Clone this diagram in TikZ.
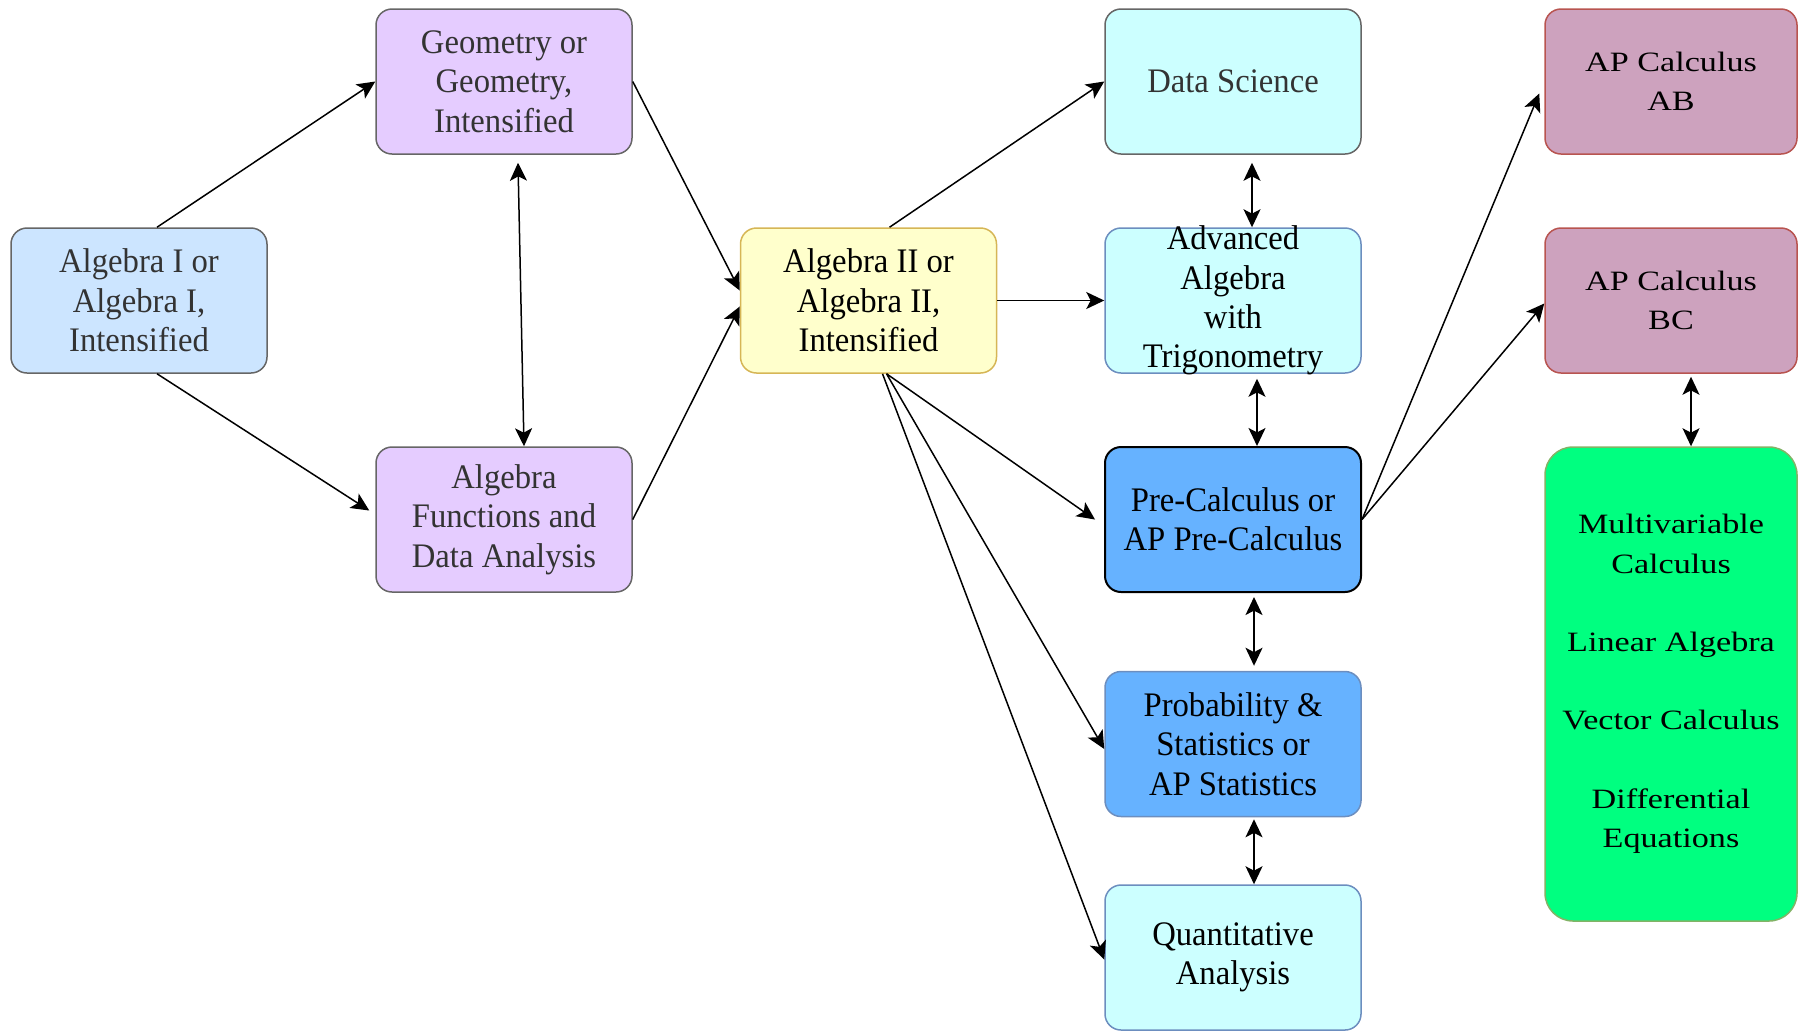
\documentclass[tikz,border=0pt]{standalone}
\usepackage{fontspec}
\setmainfont[FakeStretch=0.95]{Liberation Serif}
\newfontfamily\widefont[FakeStretch=1.22]{Liberation Serif}
\usetikzlibrary{arrows.meta}
\definecolor{pathblue}{HTML}{CCE5FF}
\definecolor{pathlilac}{HTML}{E5CCFF}
\definecolor{pathyellow}{HTML}{FFFFCC}
\definecolor{pathgold}{HTML}{D6B656}
\definecolor{pathcyan}{HTML}{CCFFFF}
\definecolor{pathedge}{HTML}{6C8EBF}
\definecolor{pathsky}{HTML}{66B2FF}
\definecolor{pathmauve}{HTML}{CDA2BE}
\definecolor{pathred}{HTML}{B85450}
\definecolor{pathgreen}{HTML}{00FF80}
\definecolor{pathleaf}{HTML}{82B366}
\tikzset{%
  course/.style  = {shape=rectangle, rounded corners=8pt,%
                    draw, align=center, line width=0.75pt,%
                    minimum width=128pt, minimum height=72.5pt, inner sep=0pt,%
                    font=\fontsize{17.2}{19.7}\selectfont},%
  intro/.style   = {course, fill=pathblue, draw=black!60, text=black!80},%
  middle/.style  = {course, fill=pathlilac, draw=black!60, text=black!80},%
  hub/.style     = {course, fill=pathyellow, draw=pathgold},%
  elective/.style= {course, fill=pathcyan, draw=pathedge},%
  senior/.style  = {course, fill=pathsky, draw=pathedge},%
  apcalc/.style  = {course, minimum width=126pt, fill=pathmauve, draw=pathred,%
                    font=\widefont\fontsize{14}{19.6}\selectfont},%
  beyond/.style  = {apcalc, fill=pathgreen, draw=pathleaf, rounded corners=14pt}%
}

\begin{document}
\begin{tikzpicture}[x=0.5pt,y=-0.5pt,
  arr/.style={-{Stealth[length=9pt,width=8.5pt,inset=2.2pt]}, line width=0.75pt},
  twoway/.style={{Stealth[length=9pt,width=8.5pt,inset=2.2pt]}-{Stealth[length=9pt,width=8.5pt,inset=2.2pt]}, line width=0.75pt}]
  \useasboundingbox (0,0) rectangle (1798,1030);
  % first two years
  \node [intro]  (alg1) at (139,300.5)  {Algebra I or\\Algebra I,\\Intensified};
  \node [middle] (geo)  at (504,81.5)   {Geometry or\\Geometry,\\Intensified};
  \node [middle] (afda) at (504,519.5)  {Algebra\\Functions and\\Data Analysis};
  \node [hub]    (alg2) at (868.5,300.5) {Algebra II or\\Algebra II,\\Intensified};
  % after Algebra II
  \node [elective, draw=black!60, text=black!80] (dsci) at (1233,81.5) {Data Science};
  \node [elective, inner ysep=-4pt] (advalg) at (1233,300.5) {Advanced\\Algebra\\with\\Trigonometry};
  \node [senior, draw=black, line width=1pt] (precalc) at (1233,519.5) {Pre-Calculus or\\AP Pre-Calculus};
  \node [senior]   (stats) at (1233,744)   {Probability \&\\Statistics or\\AP Statistics};
  \node [elective] (quant) at (1233,957.5) {Quantitative\\Analysis};
  % calculus and beyond
  \node [apcalc] (calcab) at (1671,81.5)  {AP Calculus\\AB};
  \node [apcalc] (calcbc) at (1671,300.5) {AP Calculus\\BC};
  \node [beyond, minimum height=237pt] (multi) at (1671,684)
    {Multivariable\\Calculus\\[19.6pt]Linear Algebra\\[19.6pt]Vector Calculus\\[19.6pt]Differential\\Equations};

  \draw[arr] ([xshift=9pt]alg1.north) -- (geo.west);
  \draw[arr] ([xshift=9pt]alg1.south) -- ([xshift=-3pt,yshift=4.5pt]afda.west);
  \draw[twoway] ([xshift=7pt,yshift=-4pt]geo.south) -- ([xshift=10pt]afda.north);
  \draw[arr] (geo.east) -- ([yshift=5pt]alg2.west);
  \draw[arr] (afda.east) -- ([yshift=-3pt]alg2.west);
  \draw[arr] ([xshift=10.5pt]alg2.north) -- (dsci.west);
  \draw[arr] (alg2.east) -- (advalg.west);
  \draw[arr] ([xshift=9pt]alg2.south) -- ([xshift=-4.5pt]precalc.west);
  \draw[arr] ([xshift=9pt]alg2.south) -- ([yshift=-2.5pt]stats.west);
  \draw[arr] ([xshift=7pt]alg2.south) -- ([yshift=-1pt]quant.west);
  \draw[twoway] ([xshift=9.5pt,yshift=-4pt]dsci.south) -- ([xshift=9.5pt]advalg.north);
  \draw[twoway] ([xshift=12pt,yshift=-2.5pt]advalg.south) -- ([xshift=12pt]precalc.north);
  \draw[twoway] ([xshift=10.5pt,yshift=-2pt]precalc.south) -- ([xshift=10.5pt,yshift=2.5pt]stats.north);
  \draw[twoway] ([xshift=10.5pt,yshift=-1pt]stats.south) -- ([xshift=10.5pt]quant.north);
  \draw[arr] (precalc.east) -- ([xshift=-2.5pt,yshift=-6pt]calcab.west);
  \draw[arr] (precalc.east) -- ([yshift=-1.5pt]calcbc.west);
  \draw[twoway] ([xshift=10pt,yshift=-1.5pt]calcbc.south) -- ([xshift=10pt]multi.north);
\end{tikzpicture}
\end{document}
